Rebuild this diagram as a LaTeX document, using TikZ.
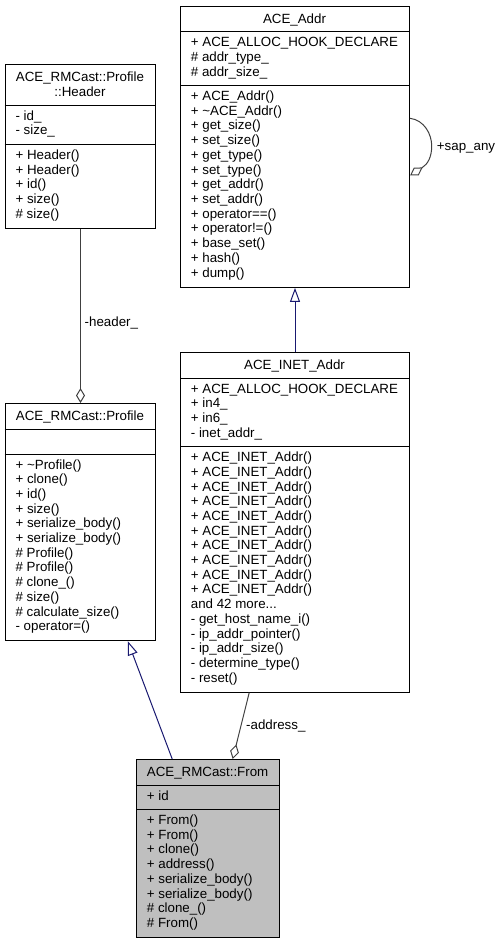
\documentclass[tikz,border=0pt]{standalone}
\usepackage{fontspec}
\setmainfont{Liberation Sans}
\usetikzlibrary{arrows.meta,calc}
\definecolor{inhcol}{HTML}{191970}
\definecolor{aggcol}{HTML}{404040}
\definecolor{fromfill}{HTML}{BFBFBF}
\newcommand\memlines[4]{\foreach \t [count=\i from 0] in {#4} \node[txt,name=#1-\i] at (#2,#3+\i*14.7) {\t};}
\tikzset{
  x=1pt,y=-1pt,
  txt/.style={anchor=base west,inner sep=0pt,font=\fontsize{13.33}{14.7}\selectfont},
  ttl/.style={anchor=base,inner sep=0pt,font=\fontsize{13.33}{14.7}\selectfont},
  cls/.style={draw=black,line width=1pt,fill=white,inner sep=0pt,anchor=north west},
  divider/.style={draw=black,line width=1pt},
  inh/.style={draw=inhcol,line width=1pt,-{Triangle[open,length=14pt,width=10pt,fill=white]}},
  agg/.style={draw=aggcol,line width=1pt,-{Diamond[open,length=15pt,width=9pt,fill=white]}},
  lbl/.style={anchor=base west,inner sep=0pt,font=\fontsize{13.33}{14.7}\selectfont},
}
\begin{document}
\begin{tikzpicture}
\useasboundingbox (0,0) rectangle (500,944);
% ---------- ACE_Addr ----------
\node[cls,minimum width=229pt,minimum height=281.2pt] (addr) at (180,5.7) {};
\draw[divider] (180,31.7) -- (409,31.7);
\draw[divider] (180,85.6) -- (409,85.6);
\node[ttl] (addrT) at (294.5,23.2) {ACE\_Addr};
\memlines{addrA}{190.7}{46.7}{+ ACE\_ALLOC\_HOOK\_DECLARE,\# addr\_type\_,\# addr\_size\_}
\memlines{addrM}{190.7}{100.6}{+ ACE\_Addr(),+ \textasciitilde ACE\_Addr(),+ get\_size(),+ set\_size(),+ get\_type(),+ set\_type(),+ get\_addr(),+ set\_addr(),+ operator==(),+ operator!=(),+ base\_set(),+ hash(),+ dump()}
% ---------- Header ----------
\node[cls,minimum width=150.6pt,minimum height=163.2pt] (header) at (4.7,64.5) {};
\draw[divider] (4.7,105.2) -- (155.3,105.2);
\draw[divider] (4.7,144.4) -- (155.3,144.4);
\node[ttl] (headerT1) at (80,82) {ACE\_RMCast::Profile};
\node[ttl] (headerT2) at (80,96.7) {::Header};
\memlines{headerA}{15.4}{120.2}{- id\_,- size\_}
\memlines{headerM}{15.4}{159.4}{+ Header(),+ Header(),+ id(),+ size(),\# size()}
% ---------- Profile ----------
\node[cls,minimum width=150.6pt,minimum height=237.2pt] (profile) at (4.7,403) {};
\draw[divider] (4.7,429) -- (155.3,429);
\draw[divider] (4.7,454) -- (155.3,454);
\node[ttl] (profileT) at (80,420.5) {ACE\_RMCast::Profile};
\memlines{profileM}{15.4}{469}{+ \textasciitilde Profile(),+ clone(),+ id(),+ size(),+ serialize\_body(),+ serialize\_body(),\# Profile(),\# Profile(),\# clone\_(),\# size(),\# calculate\_size(),- operator=()}
% ---------- ACE_INET_Addr ----------
\node[cls,minimum width=229pt,minimum height=339.6pt] (inet) at (180,352) {};
\draw[divider] (180,378) -- (409,378);
\draw[divider] (180,446.6) -- (409,446.6);
\node[ttl] (inetT) at (294.5,369.5) {ACE\_INET\_Addr};
\memlines{inetA}{190.7}{393}{+ ACE\_ALLOC\_HOOK\_DECLARE,+ in4\_,+ in6\_,- inet\_addr\_}
\memlines{inetM}{190.7}{461.6}{+ ACE\_INET\_Addr(),+ ACE\_INET\_Addr(),+ ACE\_INET\_Addr(),+ ACE\_INET\_Addr(),+ ACE\_INET\_Addr(),+ ACE\_INET\_Addr(),+ ACE\_INET\_Addr(),+ ACE\_INET\_Addr(),+ ACE\_INET\_Addr(),+ ACE\_INET\_Addr(),and 42 more.{}.{}.,- get\_host\_name\_i(),- ip\_addr\_pointer(),- ip\_addr\_size(),- determine\_type(),- reset()}
% ---------- ACE_RMCast::From ----------
\node[cls,fill=fromfill,minimum width=143.3pt,minimum height=178pt] (from) at (136,759) {};
\draw[divider] (136,785) -- (279.3,785);
\draw[divider] (136,809.5) -- (279.3,809.5);
\node[ttl] (fromT) at (207.6,776.5) {ACE\_RMCast::From};
\memlines{fromA}{146.7}{800.5}{+ id}
\memlines{fromM}{146.7}{824.5}{+ From(),+ From(),+ clone(),+ address(),+ serialize\_body(),+ serialize\_body(),\# clone\_(),\# From()}
% ---------- connectors ----------
\draw[inh] (inet.north) -- (addr.south);
\draw[inh] ($(from.north west)!0.251!(from.north east)$) -- ($(profile.south west)!0.812!(profile.south east)$);
\draw[agg] (header.south) -- (profile.north);
\node[lbl] (headerL) at (84.5,326.5) {-header\_};
\draw[agg] ($(inet.south west)!0.301!(inet.south east)$) -- ($(from.north west)!0.67!(from.north east)$);
\node[lbl] (addressL) at (246,729) {-address\_};
\coordinate (loopS) at (addr.east |- 0,118.3);
\coordinate (loopE) at (addr.east |- 0,175.5);
\draw[agg] (loopS) .. controls (424,120) and (432,134) .. (431.7,146.7) .. controls (431.5,157) and (428,164) .. (loopE);
\node[lbl] (sapL) at (436.7,151) {+sap\_any};
\end{tikzpicture}
\end{document}
